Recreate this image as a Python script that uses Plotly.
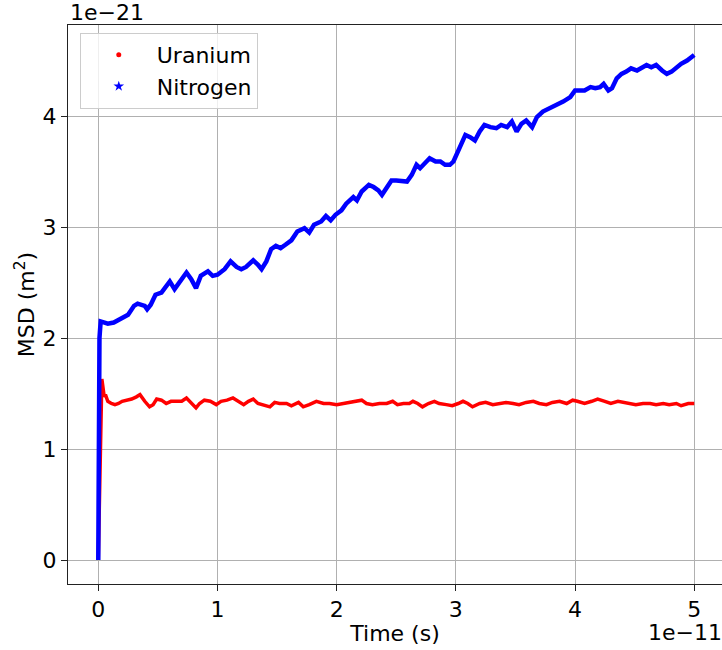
import plotly.graph_objects as go

# Time in units of 1e-11 s, MSD in units of 1e-21 m^2 (offset labels shown on axes)
uranium_t = [0, 0.01, 0.02, 0.03, 0.05, 0.06, 0.08, 0.11, 0.14, 0.17, 0.20, 0.24, 0.28, 0.32, 0.35,
             0.39, 0.43, 0.46, 0.49, 0.53, 0.57, 0.61, 0.66, 0.70, 0.74, 0.78, 0.82, 0.85, 0.89,
             0.94, 0.99, 1.03, 1.08, 1.13, 1.17, 1.22, 1.26, 1.30, 1.34, 1.38, 1.44, 1.48, 1.52,
             1.58, 1.62, 1.68, 1.72, 1.77, 1.83, 1.89, 1.94, 2.00, 2.05, 2.11, 2.16, 2.21, 2.25,
             2.30, 2.36, 2.42, 2.47, 2.51, 2.56, 2.61, 2.64, 2.68, 2.72, 2.77, 2.82, 2.86, 2.92,
             2.97, 3.02, 3.06, 3.10, 3.14, 3.20, 3.25, 3.31, 3.37, 3.42, 3.48, 3.53, 3.59, 3.65,
             3.70, 3.76, 3.81, 3.87, 3.93, 3.98, 4.02, 4.08, 4.14, 4.19, 4.25, 4.30, 4.36, 4.42,
             4.47, 4.51, 4.57, 4.63, 4.68, 4.74, 4.79, 4.85, 4.89, 4.95, 5.00]
uranium_msd = [0, 0.6, 1.3, 1.63, 1.47, 1.49, 1.43, 1.41, 1.40, 1.41, 1.43, 1.44, 1.45, 1.47, 1.49,
               1.43, 1.38, 1.40, 1.45, 1.44, 1.41, 1.43, 1.43, 1.43, 1.46, 1.41, 1.37, 1.41, 1.44,
               1.43, 1.40, 1.43, 1.44, 1.46, 1.43, 1.40, 1.43, 1.45, 1.41, 1.40, 1.38, 1.42, 1.41,
               1.41, 1.39, 1.42, 1.38, 1.40, 1.43, 1.41, 1.41, 1.40, 1.41, 1.42, 1.43, 1.44, 1.41,
               1.40, 1.41, 1.41, 1.43, 1.40, 1.41, 1.41, 1.43, 1.41, 1.38, 1.41, 1.43, 1.41, 1.40,
               1.39, 1.41, 1.43, 1.41, 1.38, 1.41, 1.42, 1.40, 1.41, 1.42, 1.41, 1.40, 1.42, 1.43,
               1.41, 1.40, 1.42, 1.43, 1.41, 1.44, 1.43, 1.41, 1.43, 1.45, 1.43, 1.41, 1.43, 1.42,
               1.41, 1.40, 1.41, 1.41, 1.40, 1.41, 1.40, 1.41, 1.39, 1.41, 1.41]

nitrogen_t = [0, 0.004, 0.01, 0.02, 0.08, 0.13, 0.19, 0.25, 0.30, 0.33, 0.39, 0.41, 0.44, 0.48, 0.53,
              0.57, 0.60, 0.64, 0.68, 0.74, 0.78, 0.82, 0.86, 0.92, 0.96, 1.00, 1.06, 1.11, 1.16,
              1.20, 1.24, 1.30, 1.34, 1.37, 1.41, 1.45, 1.49, 1.53, 1.57, 1.62, 1.67, 1.73, 1.77,
              1.81, 1.87, 1.91, 1.95, 1.99, 2.04, 2.08, 2.14, 2.17, 2.21, 2.27, 2.31, 2.35, 2.38,
              2.42, 2.46, 2.50, 2.55, 2.59, 2.63, 2.67, 2.70, 2.74, 2.78, 2.83, 2.87, 2.91, 2.95,
              2.98, 3.02, 3.05, 3.08, 3.12, 3.16, 3.20, 3.24, 3.29, 3.34, 3.38, 3.43, 3.47, 3.51,
              3.55, 3.59, 3.64, 3.68, 3.73, 3.79, 3.85, 3.90, 3.96, 4.00, 4.04, 4.08, 4.13, 4.17,
              4.21, 4.24, 4.28, 4.31, 4.35, 4.39, 4.43, 4.47, 4.52, 4.56, 4.60, 4.64, 4.68, 4.73,
              4.77, 4.81, 4.85, 4.89, 4.94, 4.98, 5.00]
nitrogen_msd = [0, 1.7, 2.0, 2.15, 2.13, 2.14, 2.17, 2.21, 2.29, 2.31, 2.29, 2.26, 2.30, 2.39, 2.41,
                2.47, 2.51, 2.44, 2.50, 2.59, 2.53, 2.45, 2.56, 2.60, 2.56, 2.57, 2.62, 2.69, 2.64,
                2.62, 2.64, 2.70, 2.66, 2.62, 2.69, 2.80, 2.83, 2.81, 2.84, 2.88, 2.96, 2.99, 2.95,
                3.02, 3.05, 3.10, 3.06, 3.11, 3.15, 3.21, 3.27, 3.24, 3.32, 3.38, 3.36, 3.33, 3.29,
                3.36, 3.42, 3.42, 3.41, 3.41, 3.47, 3.56, 3.53, 3.57, 3.62, 3.59, 3.59, 3.56, 3.56,
                3.59, 3.69, 3.75, 3.83, 3.81, 3.78, 3.86, 3.92, 3.90, 3.89, 3.92, 3.90, 3.95, 3.86,
                3.93, 3.96, 3.90, 3.99, 4.04, 4.07, 4.10, 4.13, 4.17, 4.23, 4.23, 4.23, 4.26, 4.25,
                4.26, 4.29, 4.23, 4.25, 4.34, 4.38, 4.40, 4.43, 4.41, 4.43, 4.46, 4.44, 4.46, 4.41,
                4.38, 4.40, 4.44, 4.47, 4.50, 4.53, 4.55]

x_ticks = [0, 1, 2, 3, 4, 5]
y_ticks = [0, 1, 2, 3, 4]

FONT = "DejaVu Sans"
FS = 22

fig = go.Figure()
fig.add_trace(go.Scatter(x=uranium_t, y=uranium_msd, mode="lines", showlegend=False,
                         line=dict(color="#ff0000", width=3.5)))
fig.add_trace(go.Scatter(x=nitrogen_t, y=nitrogen_msd, mode="lines", showlegend=False,
                         line=dict(color="#0000ff", width=4.5)))
# legend entries (marker style as in the original)
fig.add_trace(go.Scatter(x=[None], y=[None], mode="markers", name="Uranium",
                         marker=dict(color="#ff0000", size=5, symbol="circle")))
fig.add_trace(go.Scatter(x=[None], y=[None], mode="markers", name="Nitrogen",
                         marker=dict(color="#0000ff", size=8, symbol="star")))

axis_common = dict(showgrid=True, gridcolor="#b0b0b0", gridwidth=1, zeroline=False,
                   showline=True, linecolor="#222222", linewidth=1,
                   ticks="outside", ticklen=6, tickwidth=1, tickcolor="#222222",
                   tickfont=dict(family=FONT, size=FS, color="black"))

fig.update_layout(
    width=722, height=650,
    margin=dict(l=68, r=0, t=25, b=66),
    paper_bgcolor="white", plot_bgcolor="white",
    font=dict(family=FONT, size=FS, color="black"),
    xaxis=dict(range=[-0.254, 5.233], tickvals=x_ticks, mirror=True,
               title=dict(text="Time (s)", font=dict(family=FONT, size=FS), standoff=4),
               **axis_common),
    yaxis=dict(range=[-0.216, 4.82], tickvals=y_ticks, mirror=False,
               title=dict(text="MSD (m<sup>2</sup>)", font=dict(family=FONT, size=FS), standoff=1),
               **axis_common),
    legend=dict(x=0.018, y=0.986, xanchor="left", yanchor="top",
                bgcolor="rgba(255,255,255,0.8)", bordercolor="#cccccc", borderwidth=1,
                font=dict(family=FONT, size=FS), itemwidth=66),
    annotations=[
        dict(text="1e\u221221", xref="paper", yref="paper", x=0, y=1, xanchor="left",
             yanchor="middle", yshift=13, showarrow=False, font=dict(family=FONT, size=FS)),
        dict(text="1e\u221211", xref="paper", yref="paper", x=1, y=0, xanchor="right",
             yanchor="middle", yshift=-48, xshift=2, showarrow=False,
             font=dict(family=FONT, size=FS)),
    ],
)

fig.write_html("out.html")
